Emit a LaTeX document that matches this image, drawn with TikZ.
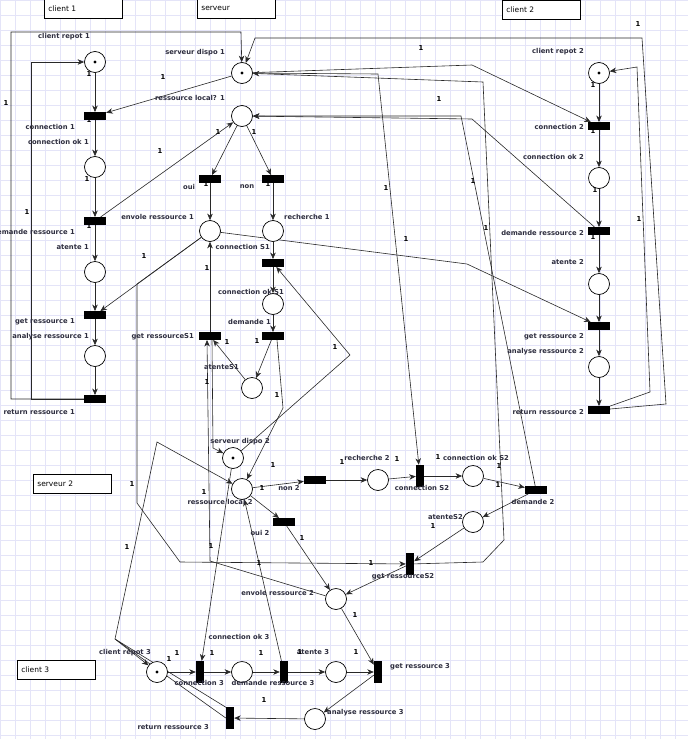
\documentclass[tikz,border=0pt]{standalone}
\usepackage{fontspec}
\setmainfont{DejaVu Sans}
\usetikzlibrary{arrows.meta}
\definecolor{gridblue}  {RGB}{228,228,248}
\definecolor{labelgray} {RGB}{45,45,62}
\definecolor{arcgray}   {RGB}{40,40,40}
\pgfdeclarelayer{bg}
\pgfsetlayers{bg,main}
\newcommand{\lblfont}{\bfseries\fontsize{6.8}{8}\selectfont}
\newcommand{\hdrfont}{\fontsize{7.5}{9}\selectfont}

\begin{document}
\begin{tikzpicture}[
    x=1pt,y=-1pt,
    >={Stealth[length=6.5pt,width=5.5pt,inset=2pt]},
    place/.style ={draw,circle,fill=white,line width=0.7pt,
                   minimum size=21pt,inner sep=0pt},
    marked/.style={place,path picture={
                   \fill[black] (path picture bounding box.center) circle (1.7pt);}},
    trans/.style ={fill=black,minimum width=22pt,minimum height=7.5pt,
                   inner sep=0pt},
    vtrans/.style={fill=black,minimum width=8pt,minimum height=22pt,
                   inner sep=0pt},
    lbl/.style   ={font=\lblfont,text=labelgray,inner sep=0pt},
    wt/.style    ={font=\lblfont,inner sep=0pt},
    hdr/.style   ={draw,fill=white,line width=0.7pt,font=\hdrfont,
                   text width=70pt,align=left,inner xsep=4pt,
                   minimum height=18.5pt,anchor=north west},
    arc/.style   ={->,draw=arcgray,line width=0.6pt},
  ]
  \path[use as bounding box,clip] (0,0) rectangle (688,739);

  %% background grid
  \begin{pgfonlayer}{bg}
    \foreach \gx in {0,15,...,675}
      \draw[gridblue,line width=0.6pt] (\gx,0) -- (\gx,739);
    \foreach \gy in {0,15,...,735}
      \draw[gridblue,line width=0.6pt] (0,\gy) -- (688,\gy);
  \end{pgfonlayer}

  %% headers
  \node[hdr] (hdrC1) at (44,-1)  {client 1};
  \node[hdr] (hdrS1) at (197,-1) {serveur};
  \node[hdr] (hdrC2) at (502,0)  {client 2};
  \node[hdr] (hdrS2) at (33,474) {serveur 2};
  \node[hdr] (hdrC3) at (17,660) {client 3};

  %% client 1
  \node[marked] (cr1)  at (95,62)  {};
  \node[trans]  (c1)   at (95,116) {};
  \node[place]  (cok1) at (95,167) {};
  \node[trans]  (dr1)  at (95,221) {};
  \node[place]  (at1)  at (95,272) {};
  \node[trans]  (gr1)  at (95,315) {};
  \node[place]  (ar1)  at (95,356) {};
  \node[trans]  (rr1)  at (95,399) {};

  %% serveur 1
  \node[marked] (sd1)   at (242,73)  {};
  \node[place]  (rl1)   at (242,116) {};
  \node[trans]  (oui)   at (210,179) {};
  \node[trans]  (non)   at (273,179) {};
  \node[place]  (er1)   at (210,231) {};
  \node[place]  (rech1) at (273,231) {};
  \node[trans]  (cS1)   at (273,263) {};
  \node[place]  (cokS1) at (273,304) {};
  \node[trans]  (dem1)  at (273,336) {};
  \node[trans]  (grS1)  at (210,336) {};
  \node[place]  (atS1)  at (252,388) {};

  %% client 2
  \node[marked] (cr2)  at (599,73)  {};
  \node[trans]  (c2)   at (599,126) {};
  \node[place]  (cok2) at (599,178) {};
  \node[trans]  (dr2)  at (599,231) {};
  \node[place]  (at2)  at (599,284) {};
  \node[trans]  (gr2)  at (599,326) {};
  \node[place]  (ar2)  at (599,367) {};
  \node[trans]  (rr2)  at (599,410) {};

  %% serveur 2
  \node[marked] (sd2)   at (233,458) {};
  \node[place]  (rl2)   at (242,489) {};
  \node[trans]  (non2)  at (315,480) {};
  \node[place]  (rech2) at (378,480) {};
  \node[vtrans] (cS2)   at (420,476) {};
  \node[place]  (cokS2) at (473,476) {};
  \node[trans]  (dem2)  at (536,490) {};
  \node[place]  (atS2)  at (473,522) {};
  \node[trans]  (oui2)  at (284,522) {};
  \node[vtrans] (grS2)  at (410,564) {};
  \node[place]  (er2)   at (336,599) {};

  %% client 3
  \node[marked] (cr3)  at (157,672) {};
  \node[vtrans] (c3)   at (200,672) {};
  \node[place]  (cok3) at (242,672) {};
  \node[vtrans] (dr3)  at (284,672) {};
  \node[place]  (at3)  at (336,672) {};
  \node[vtrans] (gr3)  at (378,672) {};
  \node[place]  (ar3)  at (315,719) {};
  \node[vtrans] (rr3)  at (230,718) {};

  %% labels client 1
  \node[lbl,anchor=east] (lcr1)  at (90,37)  {client repot 1};
  \node[lbl,anchor=east] (lc1)   at (75,127) {connection 1};
  \node[lbl,anchor=east] (lcok1) at (89,142) {connection ok 1};
  \node[lbl,anchor=east] (ldr1)  at (75,232) {demande ressource 1};
  \node[lbl,anchor=east] (lat1)  at (89,247) {atente 1};
  \node[lbl,anchor=east] (lgr1)  at (75,322) {get ressource 1};
  \node[lbl,anchor=east] (lar1)  at (89,337) {analyse ressource 1};
  \node[lbl,anchor=east] (lrr1)  at (75,412) {return ressource 1};

  %% labels serveur 1
  \node[lbl,anchor=east] (lsd1)   at (225,53)  {serveur dispo 1};
  \node[lbl,anchor=east] (lrl1)   at (225,98)  {ressource local? 1};
  \node[lbl]             (loui)   at (189,187) {oui};
  \node[lbl]             (lnon)   at (247,187) {non};
  \node[lbl,anchor=east] (ler1)   at (194,217) {envole ressource 1};
  \node[lbl,anchor=west] (lrech1) at (284,217) {recherche 1};
  \node[lbl,anchor=east] (lcS1)   at (270,247) {connection S1};
  \node[lbl,anchor=east] (lcokS1) at (284,292) {connection ok S1};
  \node[lbl,anchor=east] (ldem1)  at (271,322) {demande 1};
  \node[lbl,anchor=east] (lgrS1)  at (194,337) {get ressourceS1};
  \node[lbl,anchor=east] (latS1)  at (239,367) {atenteS1};

  %% labels client 2
  \node[lbl,anchor=east] (lcr2)  at (584,52)  {client repot 2};
  \node[lbl,anchor=east] (lc2)   at (584,127) {connection 2};
  \node[lbl,anchor=east] (lcok2) at (584,157) {connection ok 2};
  \node[lbl,anchor=east] (ldr2)  at (584,233) {demande ressource 2};
  \node[lbl,anchor=east] (lat2)  at (584,262) {atente 2};
  \node[lbl,anchor=east] (lgr2)  at (584,337) {get ressource 2};
  \node[lbl,anchor=east] (lar2)  at (584,352) {analyse ressource 2};
  \node[lbl,anchor=east] (lrr2)  at (584,412) {return ressource 2};

  %% labels serveur 2
  \node[lbl]             (lsd2)   at (240,442) {serveur dispo 2};
  \node[lbl]             (lrl2)   at (220,502) {ressource local 2};
  \node[lbl]             (lnon2)  at (289,488) {non 2};
  \node[lbl]             (loui2)  at (260,533) {oui 2};
  \node[lbl]             (lrech2) at (367,458) {recherche 2};
  \node[lbl]             (lcS2)   at (422,488) {connection S2};
  \node[lbl,anchor=west] (lcokS2) at (443,458) {connection ok S2};
  \node[lbl]             (ldem2)  at (533,502) {demande 2};
  \node[lbl,anchor=east] (latS2)  at (463,517) {atenteS2};
  \node[lbl]             (lgrS2)  at (403,577) {get ressourceS2};
  \node[lbl,anchor=east] (ler2)   at (314,593) {envole ressource 2};

  %% labels client 3
  \node[lbl]             (lcr3)  at (125,653) {client repot 3};
  \node[lbl,anchor=east] (lc3)   at (224,683) {connection 3};
  \node[lbl]             (lcok3) at (239,637) {connection ok 3};
  \node[lbl]             (ldr3)  at (273,683) {demande ressource 3};
  \node[lbl]             (lat3)  at (313,652) {atente 3};
  \node[lbl,anchor=west] (lgr3)  at (390,667) {get ressource 3};
  \node[lbl,anchor=west] (lar3)  at (327,713) {analyse ressource 3};
  \node[lbl,anchor=east] (lrr3)  at (209,727) {return ressource 3};

  %% arc weights
  \foreach \wx/\wy [count=\wi] in {89/74,89/120,87/179,89/226,6/103,27/212,
      163/77,218/132,254/132,206/184,268/184,160/151,144/256,207/268,
      207/382,227/342,257/341,277/395,335/347,386/188,406/239,421/48,
      439/99,473/181,486/228,638/24,639/219,593/85,593/131,595/190,
      593/237,262/488,273/465,342/462,397/459,438/457,499/466,498/485,
      433/526,302/538,371/563,259/563,211/546,204/492,132/484,127/547,
      169/659,177/653,212/653,261/653,300/652,356/652,355/615,264/700}
    \node[wt] (w\wi) at (\wx,\wy) {1};

  \begin{pgfonlayer}{bg}
    %% client 1
    \draw[arc] (cr1) -- (c1);
    \draw[arc] (c1) -- (cok1);
    \draw[arc] (cok1) -- (dr1);
    \draw[arc] (dr1) -- (at1);
    \draw[arc] (at1) -- (gr1);
    \draw[arc] (gr1) -- (ar1);
    \draw[arc] (ar1) -- (rr1);
    \draw[arc] (rr1) -- (31,399) -- (31,62) -- (cr1);
    \draw[arc] (rr1) -- (11,399) -- (11,32) -- (241,32) -- (sd1);
    \draw[arc] (sd1) -- (c1);
    \draw[arc] (dr1) -- (rl1);

    %% serveur 1
    \draw[arc] (rl1) -- (oui);
    \draw[arc] (rl1) -- (non);
    \draw[arc] (oui) -- (er1);
    \draw[arc] (non) -- (rech1);
    \draw[arc] (er1) -- (gr1);
    \draw[arc] (er1) -- (467,264) -- (gr2);
    \draw[arc] (er1) -- (137,284) -- (137,503) -- (180,562) -- (grS2);
    \draw[arc] (rech1) -- (cS1);
    \draw[arc] (cS1) -- (cokS1);
    \draw[arc] (cokS1) -- (dem1);
    \draw[arc] (dem1) -- (atS1);
    \draw[arc] (atS1) -- (grS1);
    \draw[arc] (grS1) -- (er1);
    \draw[arc] ([xshift=4pt]dem1.south) -- (283,408) -- (rl2);
    \draw[arc] (sd2) -- (350,355) -- (cS1);
    \draw[arc] ([xshift=2pt]grS1.south) -- (213,448) -- (sd2);
    \draw[arc] (er2) -- (210,561) -- ([xshift=-3pt]grS1.south);

    %% serveur 1 <-> client 2 / serveur 2
    \draw[arc] (sd1) -- (472,65) -- (c2);
    \draw[arc] (sd1) -- (378,74) -- (cS2);
    \draw[arc] (grS2) -- (483,562) -- (504,540) -- (483,82) -- (sd1);
    \draw[arc] (dr2) -- (472,119) -- (rl1);
    \draw[arc] (dem2) -- (461,116) -- (rl1);
    \draw[arc] (rr2) -- (666,404) -- (642,38) -- (255,38) -- (sd1);
    \draw[arc] (rr2) -- (650,392) -- (637,67) -- (cr2);

    %% client 2
    \draw[arc] (cr2) -- (c2);
    \draw[arc] (c2) -- (cok2);
    \draw[arc] (cok2) -- (dr2);
    \draw[arc] (dr2) -- (at2);
    \draw[arc] (at2) -- (gr2);
    \draw[arc] (gr2) -- (ar2);
    \draw[arc] (ar2) -- (rr2);

    %% serveur 2
    \draw[arc] (rl2) -- (non2);
    \draw[arc] (non2) -- (rech2);
    \draw[arc] (rech2) -- (cS2);
    \draw[arc] (cS2) -- (cokS2);
    \draw[arc] (cokS2) -- (dem2);
    \draw[arc] (dem2) -- (atS2);
    \draw[arc] (atS2) -- (grS2);
    \draw[arc] (grS2) -- (er2);
    \draw[arc] (rl2) -- (oui2);
    \draw[arc] (oui2) -- (er2);
    \draw[arc] (sd2) -- (c3);
    \draw[arc] (dr3) -- (rl2);
    \draw[arc] (rr3.west) -- (115,639) -- (157,442) -- (rl2);

    %% client 3
    \draw[arc] (cr3) -- (c3);
    \draw[arc] (c3) -- (cok3);
    \draw[arc] (cok3) -- (dr3);
    \draw[arc] (dr3) -- (at3);
    \draw[arc] (at3) -- (gr3);
    \draw[arc] (er2) -- (gr3);
    \draw[arc] (gr3) -- (ar3);
    \draw[arc] (ar3) -- (rr3);
    \draw[arc] ([yshift=-3pt]rr3.north) -- (115,639) -- (cr3);
  \end{pgfonlayer}
\end{tikzpicture}
\end{document}
